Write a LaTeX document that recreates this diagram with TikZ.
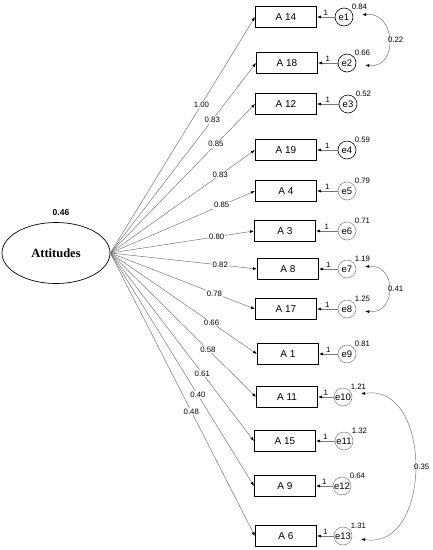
\documentclass[tikz,border=0pt]{standalone}
\usepackage{fontspec}
\setmainfont{Liberation Sans}
\newfontfamily\latentfont{Liberation Serif}
\usetikzlibrary{arrows.meta,shapes.geometric}
\definecolor{pathgray}{HTML}{777777}
\definecolor{errgray}{HTML}{8A8A8A}

\begin{document}
\begin{tikzpicture}[
    x=1pt, y=-1pt,
    item/.style={rectangle, draw=black, line width=1.1pt, fill=white, minimum width=61pt, minimum height=21pt, inner sep=0pt, font=\fontsize{10}{11}\selectfont},
    err/.style={circle, draw=errgray, line width=0.6pt, minimum size=18pt, inner sep=0pt, font=\fontsize{9.5}{10}\selectfont},
    errdark/.style={err, draw=black},
    latent/.style={ellipse, draw=black, line width=0.7pt, minimum width=108pt, minimum height=61pt, inner sep=0pt, font=\latentfont\bfseries\fontsize{12.5}{14}\selectfont},
    num/.style={font=\fontsize{7.8}{9}\selectfont, inner sep=1pt},
    load/.style={-{Latex[length=4pt,width=3pt,color=black]}, draw=pathgray, line width=0.5pt},
    cov/.style={{Latex[length=4pt,width=3pt,color=black]}-{Latex[length=4pt,width=3pt,color=black]}, draw=pathgray, line width=0.5pt, shorten <=9pt, shorten >=9pt}
]
\useasboundingbox (0,0) rectangle (433,550);

% latent variable
\node[latent] (att) at (56,253) {Attitudes};
\node[font=\bfseries\fontsize{8.5}{10}\selectfont] (attvar) at (61,213) {0.46};

% observed items
\node[item] (a14) at (286,17) {A 14};
\node[item] (a18) at (287,63) {A 18};
\node[item] (a12) at (286,104) {A 12};
\node[item] (a19) at (286,150) {A 19};
\node[item] (a4) at (286,191) {A 4};
\node[item] (a3) at (285,231) {A 3};
\node[item] (a8) at (288,269) {A 8};
\node[item] (a17) at (286,309) {A 17};
\node[item] (a1) at (288,354) {A 1};
\node[item] (a11) at (287,397) {A 11};
\node[item] (a15) at (285,441) {A 15};
\node[item] (a9) at (285,486) {A 9};
\node[item] (a6) at (286,536) {A 6};

% error terms
\node[errdark, label={[num]45:0.84}] (e1) at (344,17) {e1};
\node[errdark, label={[num]45:0.66}] (e2) at (347,63) {e2};
\node[errdark, label={[num]45:0.52}] (e3) at (348,104) {e3};
\node[errdark, label={[num]45:0.59}] (e4) at (347,150) {e4};
\node[err, label={[num]45:0.79}] (e5) at (347,191) {e5};
\node[err, label={[num]45:0.71}] (e6) at (347,231) {e6};
\node[err, label={[num]45:1.19}] (e7) at (347,269) {e7};
\node[err, label={[num]45:1.25}] (e8) at (347,309) {e8};
\node[err, label={[num]45:0.81}] (e9) at (347,354) {e9};
\node[err, label={[num]45:1.21}] (e10) at (343,397) {e10};
\node[err, label={[num]45:1.32}] (e11) at (344,441) {e11};
\node[err, label={[num]45:0.64}] (e12) at (342,486) {e12};
\node[err, label={[num]45:1.31}] (e13) at (343,536) {e13};

% loadings
\draw[load] (att.east) -- node[num, fill=white, pos=0.63] {1.00} (a14.west);
\draw[load] (att.east) -- node[num, fill=white, pos=0.70] {0.83} (a18.west);
\draw[load] (att.east) -- node[num, fill=white, pos=0.73] {0.85} (a12.west);
\draw[load] (att.east) -- node[num, fill=white, pos=0.76] {0.83} (a19.west);
\draw[load] (att.east) -- node[num, fill=white, pos=0.77] {0.85} (a4.west);
\draw[load] (att.east) -- node[num, fill=white, pos=0.74] {0.80} (a3.west);
\draw[load] (att.east) -- node[num, fill=white, pos=0.75] {0.82} (a8.west);
\draw[load] (att.east) -- node[num, fill=white, pos=0.72] {0.78} (a17.west);
\draw[load] (att.east) -- node[num, fill=white, pos=0.69] {0.66} (a1.west);
\draw[load] (att.east) -- node[num, fill=white, pos=0.67] {0.58} (a11.west);
\draw[load] (att.east) -- node[num, fill=white, pos=0.64] {0.61} (a15.west);
\draw[load] (att.east) -- node[num, fill=white, pos=0.61] {0.40} (a9.west);
\draw[load] (att.east) -- node[num, fill=white, pos=0.56] {0.48} (a6.west);

% error paths
\draw[load] (e1) -- node[num, above] {1} (a14);
\draw[load] (e2) -- node[num, above] {1} (a18);
\draw[load] (e3) -- node[num, above] {1} (a12);
\draw[load] (e4) -- node[num, above] {1} (a19);
\draw[load] (e5) -- node[num, above] {1} (a4);
\draw[load] (e6) -- node[num, above] {1} (a3);
\draw[load] (e7) -- node[num, above] {1} (a8);
\draw[load] (e8) -- node[num, above] {1} (a17);
\draw[load] (e9) -- node[num, above] {1} (a1);
\draw[load] (e10) -- node[num, above] {1} (a11);
\draw[load] (e11) -- node[num, above] {1} (a15);
\draw[load] (e12) -- node[num, above] {1} (a9);
\draw[load] (e13) -- node[num, above] {1} (a6);

% covariances
\draw[cov] (e1) .. controls +(52,-6) and +(52,6) .. node[num, right] {0.22} (e2);
\draw[cov] (e7) .. controls +(50,-6) and +(50,6) .. node[num, right] {0.41} (e8);
\draw[cov] (e10) .. controls +(90,-15) and +(90,15) .. node[num, right] {0.35} (e13);
\end{tikzpicture}
\end{document}
